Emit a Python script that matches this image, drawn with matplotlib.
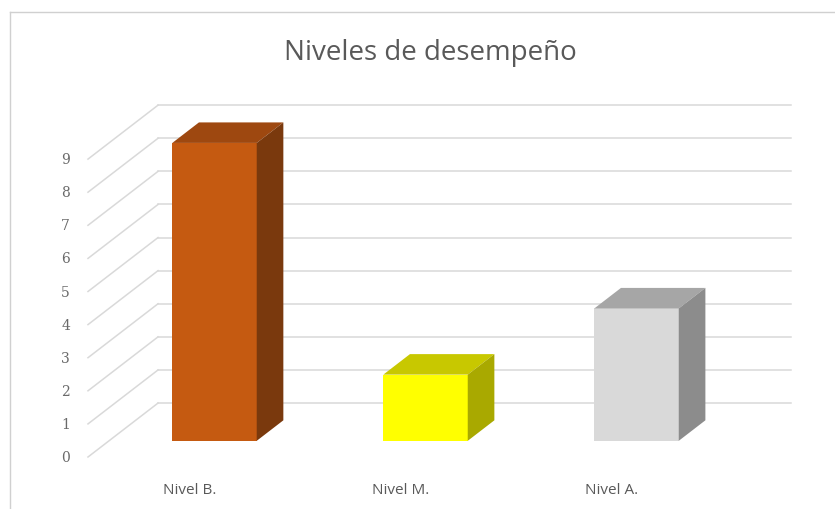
import matplotlib.pyplot as plt
from matplotlib.lines import Line2D

categories = ["Nivel B.", "Nivel M.", "Nivel A."]
values = [9, 2, 4]
y_ticks = list(range(0, 10))

front_colors = ["#C55A11", "#FFFF00", "#D9D9D9"]
top_colors = ["#9E4810", "#C8C800", "#A6A6A6"]
side_colors = ["#7A390D", "#A9A900", "#8C8C8C"]

TITLE = "Niveles de desempeño"

# oblique 3d look: depth offset (in data units) from front plane to back wall
DX = 0.332
DY = 1.63
BAR_W = 0.40
D0, D1 = 0.30, 0.68
GRID = "#D9D9D9"
TEXT = "#595959"


def proj(x, v, d):
    return x + d * DX, v + d * DY


def face(points):
    xs, ys = zip(*[proj(*p) for p in points])
    return list(xs), list(ys)


fig = plt.figure(figsize=(8.35, 5.10), dpi=100)
ax = fig.add_axes([0, 0, 1, 1])
ax.set_xlim(-0.917, 3.040)
ax.set_ylim(-1.571, 13.837)
ax.axis("off")

n = len(categories)
left, right = -0.5, n - 0.5

# back wall and side wall gridlines
for v in y_ticks:
    xs, ys = face([(left, v, 1), (right, v, 1)])
    ax.plot(xs, ys, color=GRID, lw=1.1, zorder=1)
    xs, ys = face([(left, v, 0), (left, v, 1)])
    ax.plot(xs, ys, color=GRID, lw=1.1, zorder=1)
    ax.text(left - 0.085, v, str(v), ha="right", va="center",
            fontsize=10, color="#6A6A6A", family="DejaVu Serif")

# bars
for i, v in enumerate(values):
    a, b = i - BAR_W / 2, i + BAR_W / 2
    xs, ys = face([(a, 0, D0), (b, 0, D0), (b, v, D0), (a, v, D0)])
    ax.fill(xs, ys, color=front_colors[i], zorder=3, lw=0)
    xs, ys = face([(a, v, D0), (b, v, D0), (b, v, D1), (a, v, D1)])
    ax.fill(xs, ys, color=top_colors[i], zorder=3, lw=0)
    xs, ys = face([(b, 0, D0), (b, 0, D1), (b, v, D1), (b, v, D0)])
    ax.fill(xs, ys, color=side_colors[i], zorder=3, lw=0)
    ax.text(i - 0.02, -0.98, categories[i], ha="center", va="center",
            fontsize=11, color=TEXT, family="Open Sans")

fig.text(430 / 835, 1 - 53 / 510, TITLE, ha="center", va="center",
         fontsize=20, color=TEXT, family="Open Sans")

# chart area border
fig.add_artist(Line2D([10 / 835, 1], [1 - 13 / 510, 1 - 13 / 510],
                      transform=fig.transFigure, color="#D0D0D0", lw=1))
fig.add_artist(Line2D([10 / 835, 10 / 835], [0, 1 - 13 / 510],
                      transform=fig.transFigure, color="#D0D0D0", lw=1))

fig.savefig("out.png", dpi=100)
